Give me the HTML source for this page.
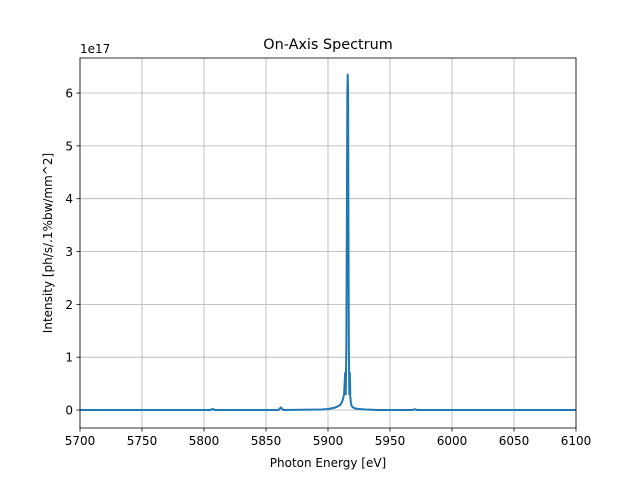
<!DOCTYPE html>
<html><head><meta charset="utf-8"><style>
body{margin:0;background:#fff;font-family:"Liberation Sans","DejaVu Sans",sans-serif;}
svg text{font-family:"DejaVu Sans","Liberation Sans",sans-serif;}
</style></head><body>
<svg id="chart" width="640" height="480" xmlns="http://www.w3.org/2000/svg">
<rect width="640" height="480" fill="#fff"/>
<g id="grid"></g>
<g id="ticks"></g>
<g id="series"></g>
<rect x="80" y="58" width="496" height="370" fill="none" stroke="#000" stroke-width="0.8"/>
<text x="328" y="49" font-size="14.4" text-anchor="middle">On-Axis Spectrum</text>
<text x="328" y="467" font-size="12" text-anchor="middle">Photon Energy [eV]</text>
<text transform="translate(52,243) rotate(-90)" font-size="12" text-anchor="middle">Intensity [ph/s/.1%bw/mm^2]</text>
<text x="80" y="53" font-size="12">1e17</text>
</svg>
<script>
const xTicks=[5700,5750,5800,5850,5900,5950,6000,6050,6100];
const yTicks=[0,1,2,3,4,5,6];
const energies=[5700,5805,5807,5809,5860,5862,5864,5895,5900,5905,5908,5910,5911,5912,5913,5913.8,5914.3,5914.8,5915.2,5915.6,5915.9,5916.2,5916.5,5916.8,5917.2,5917.6,5918,5918.4,5919,5920,5922,5925,5930,5940,5968,5970,5972,6100];
const intensities=[0,0,0.02,0,0,0.05,0,0.01,0.02,0.04,0.07,0.1,0.14,0.2,0.3,0.7,0.3,1.2,3.5,6.0,6.35,6.0,3.5,1.2,0.3,0.7,0.25,0.15,0.08,0.05,0.03,0.02,0.01,0,0,0.015,0,0];
const X0=80,X1=576,Y0=428,Y1=58,xmin=5700,xmax=6100,ymin=-0.34,ymax=6.663;
const sx=v=>X0+(v-xmin)/(xmax-xmin)*(X1-X0);
const sy=v=>Y0-(v-ymin)/(ymax-ymin)*(Y0-Y1);
const NS="http://www.w3.org/2000/svg";
const grid=document.getElementById('grid'),ticks=document.getElementById('ticks');
function mk(t,a,p){const e=document.createElementNS(NS,t);for(const k in a)e.setAttribute(k,a[k]);p.appendChild(e);return e;}
xTicks.forEach(v=>{const x=sx(v);
 const g=mk('line',{x1:x,x2:x,y1:Y1,y2:Y0,stroke:'#b0b0b0','stroke-width':0.8},grid);
 
 
 const t=mk('line',{x1:x,x2:x,y1:Y0,y2:Y0+3.5,stroke:'#000','stroke-width':0.8},ticks);
 
 
 const l=mk('text',{x:x,y:Y0+17,'font-size':12,'text-anchor':'middle'},ticks);l.textContent=v;
 
 
});
yTicks.forEach(v=>{const y=sy(v);
 const g=mk('line',{x1:X0,x2:X1,y1:y,y2:y,stroke:'#b0b0b0','stroke-width':0.8},grid);
 
 
 const t=mk('line',{x1:X0-3.5,x2:X0,y1:y,y2:y,stroke:'#000','stroke-width':0.8},ticks);
 
 
 const l=mk('text',{x:X0-7,y:y+4.5,'font-size':12,'text-anchor':'end'},ticks);l.textContent=v;
 
 
});
const d=energies.map((e,i)=>(i?'L':'M')+sx(e).toFixed(2)+','+sy(intensities[i]).toFixed(2)).join(' ');
const p=mk('path',{d:d,fill:'none',stroke:'#1f77b4','stroke-width':2,'stroke-linejoin':'round'},document.getElementById('series'));


</script>
</body></html>
